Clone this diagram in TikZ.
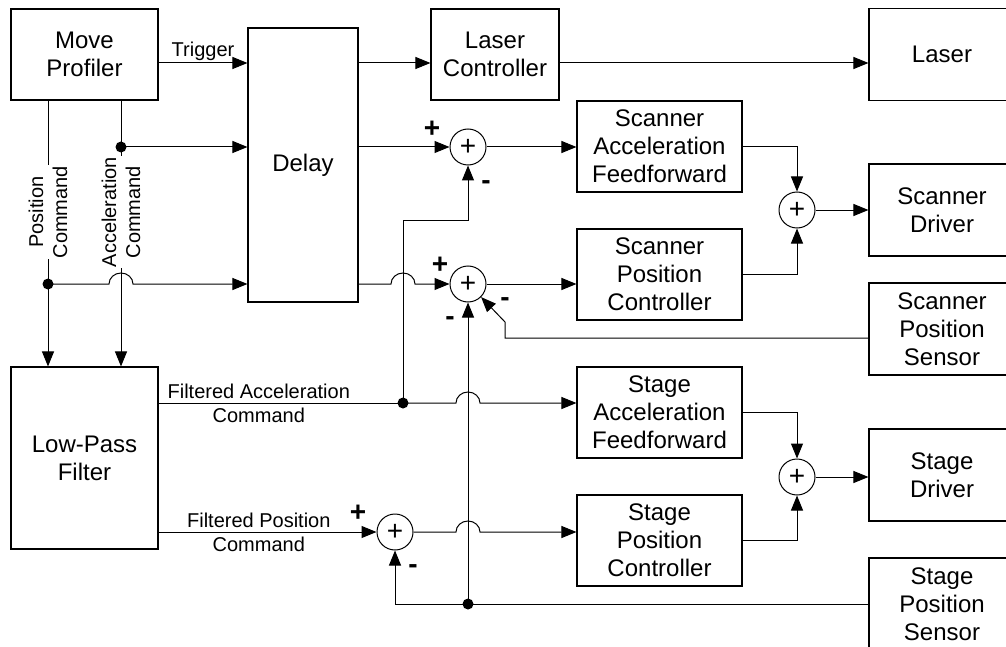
\documentclass[tikz,border=0pt]{standalone}
\usepackage{fontspec}
\setmainfont{Liberation Sans}
\usetikzlibrary{positioning, arrows.meta, calc}

\tikzset{
	block/.style={draw, line width=1.1pt, align=center, inner sep=0pt, font=\fontsize{24}{28}\selectfont},
	small/.style={block, minimum width=147pt, minimum height=91pt},
	ctrl/.style={block, minimum width=165pt, minimum height=91pt},
	unit/.style={block, minimum width=146pt, minimum height=92pt},
	sumnode/.style={draw, circle, line width=1pt, minimum size=36pt, inner sep=0pt, font=\fontsize{28}{30}\selectfont},
	lbl/.style={font=\fontsize{20}{24}\selectfont, align=center, inner sep=1pt},
	sgn/.style={font=\fontsize{28}{30}\selectfont\bfseries, inner sep=0pt},
	wire/.style={line width=1pt},
	sig/.style={wire, -{Triangle[length=15pt,width=12pt]}},
}

\begin{document}
\begin{tikzpicture}[x=1pt, y=-1pt]
	\useasboundingbox (0,0) rectangle (1006,647);

	\node[small] (mp) at (84.5,54.5) {Move\\Profiler};
	\node[block, minimum width=110pt, minimum height=274pt] (delay) at (303,165) {Delay};
	\node[block, minimum width=128pt, minimum height=91pt] (lc) at (495,54.5) {Laser\\Controller};
	\node[unit] (laser) at (942,54.5) {Laser};
	\node[block, minimum width=147pt, minimum height=182pt] (lpf) at (84.5,458) {Low-Pass\\Filter};

	\node[ctrl] (saff) at (659.5,146.5) {Scanner\\Acceleration\\Feedforward};
	\node[ctrl] (spc) at (659.5,274.5) {Scanner\\Position\\Controller};
	\node[ctrl] (gaff) at (659.5,412.5) {Stage\\Acceleration\\Feedforward};
	\node[ctrl] (gpc) at (659.5,540.5) {Stage\\Position\\Controller};

	\node[unit] (sdrv) at (942,210) {Scanner\\Driver};
	\node[unit] (sps) at (942,329) {Scanner\\Position\\Sensor};
	\node[unit] (gdrv) at (942,475) {Stage\\Driver};
	\node[unit] (gps) at (942,604) {Stage\\Position\\Sensor};

	\node[sumnode] (s1) at (468,147) {+};
	\node[sumnode] (s2) at (468,284) {+};
	\node[sumnode] (s3) at (395,532) {+};
	\node[sumnode] (s4) at (797,210) {+};
	\node[sumnode] (s5) at (797,477) {+};

	\node[sgn] (s1p) at (432,129) {+};
	\node[sgn] (s1m) at (486,185) {-};
	\node[sgn] (s2p) at (440,265) {+};
	\node[sgn] (s2m) at (505,302) {-};
	\node[sgn] (s2n) at (450,321) {-};
	\node[sgn] (s3p) at (358,513) {+};
	\node[sgn] (s3m) at (413,569) {-};

	% branch points
	\coordinate (yt) at (0,63);
	\coordinate (pc) at (48,284);
	\coordinate (ac) at (121,147);
	\coordinate (fa) at (403,403);
	\coordinate (fb) at (468,604);
	\coordinate (sk) at (505,338);

	% trigger and laser
	\draw[sig] (mp.east |- yt) -- node[lbl, above=1pt] {Trigger} (delay.west |- yt);
	\draw[sig] (delay.east |- yt) -- (lc.west |- yt);
	\draw[sig] (lc.east |- yt) -- (laser.west |- yt);

	% commands
	\draw[sig] (mp.south -| pc) -- node[lbl, pos=0.42, rotate=90, fill=white] {Position\\Command} (lpf.north -| pc);
	\draw[sig] (mp.south -| ac) -- node[lbl, pos=0.42, rotate=90, fill=white] {Acceleration\\Command} (lpf.north -| ac);
	\draw[sig] (ac) -- (ac -| delay.west);
	\draw[sig] (pc) -- ($(pc -| ac)+(-12,0)$) arc[start angle=180, end angle=0, x radius=12pt, y radius=11pt] -- (pc -| delay.west);
	\fill (ac) circle[radius=5.5pt];
	\fill (pc) circle[radius=5.5pt];

	% scanner loop
	\draw[sig] (delay.east |- s1) -- (s1);
	\draw[sig] (delay.east |- s2) -- ($(s2 -| fa)+(-12,0)$) arc[start angle=180, end angle=0, x radius=12pt, y radius=11pt] -- (s2);
	\draw[sig] (s1) -- (s1 -| saff.west);
	\draw[sig] (s2) -- (s2 -| spc.west);
	\draw[sig] (fa) |- ($(s1)+(0,73)$) -- (s1);
	\draw[sig] (sk -| sps.west) -- (sk) -- ++(0,-16) -- (s2.south east);
	\draw[sig] (saff.east) -| (s4);
	\draw[sig] (spc.east) -| (s4);
	\draw[sig] (s4) -- (sdrv);

	% stage loop
	\draw[wire] (lpf.east |- fa) -- node[lbl, pos=0.41] {Filtered Acceleration\\Command} (fa);
	\draw[sig] (fa) -- ($(fa -| fb)+(-12,0)$) arc[start angle=180, end angle=0, x radius=12pt, y radius=11pt] -- (fa -| gaff.west);
	\draw[sig] (lpf.east |- s3) -- node[lbl, pos=0.46] {Filtered Position\\Command} (s3);
	\draw[sig] (s3) -- ($(s3 -| fb)+(-12,0)$) arc[start angle=180, end angle=0, x radius=12pt, y radius=11pt] -- (s3 -| gpc.west);
	\draw[sig] (gps.west) -| (s3);
	\draw[sig] (fb) -- (s2);
	\fill (fa) circle[radius=5.5pt];
	\fill (fb) circle[radius=5.5pt];
	\draw[sig] (gaff.east) -| (s5);
	\draw[sig] (gpc.east) -| (s5);
	\draw[sig] (s5) -- (s5 -| gdrv.west);
\end{tikzpicture}
\end{document}
